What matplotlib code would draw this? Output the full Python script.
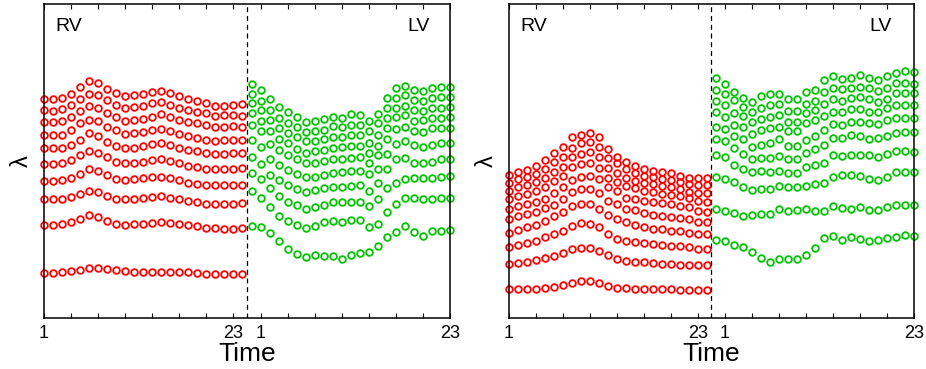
import numpy as np
import matplotlib.pyplot as plt

plt.rcParams['font.family'] = ['Liberation Sans', 'DejaVu Sans']

# time points of the RV and LV sequences, plotted one after the other
rv_time = np.arange(1, 24)
lv_time = np.arange(24, 47)
tick_pos = [1, 4, 7, 10, 13, 16, 19, 22, 25, 28, 31, 34, 37, 40, 43, 46]
tick_text = ['1', '', '', '', '', '', '', '23', '1', '', '', '', '', '', '', '23']

# lambda values (arbitrary units), one list per row of circles
left_rv = [
    [657, 657, 661, 673, 694, 712, 706, 688, 674, 665, 668, 671, 677, 681, 674, 665, 656, 651, 644, 637, 637, 639, 641],
    [624, 622, 627, 640, 656, 673, 670, 654, 640, 630, 632, 635, 644, 647, 640, 630, 624, 619, 614, 606, 608, 609, 607],
    [588, 588, 592, 603, 621, 636, 631, 614, 603, 592, 594, 596, 604, 611, 604, 593, 588, 585, 579, 573, 574, 575, 574],
    [549, 548, 549, 563, 584, 594, 591, 573, 563, 552, 554, 557, 564, 567, 561, 552, 546, 541, 534, 532, 533, 533, 534],
    [511, 509, 510, 519, 534, 555, 545, 529, 515, 510, 511, 516, 521, 525, 519, 511, 505, 500, 494, 492, 493, 494, 494],
    [462, 461, 465, 474, 488, 501, 495, 482, 469, 464, 465, 469, 474, 477, 472, 465, 456, 452, 447, 446, 447, 447, 449],
    [412, 411, 413, 421, 432, 447, 442, 428, 418, 414, 416, 419, 423, 424, 419, 413, 406, 402, 399, 398, 398, 398, 399],
    [357, 356, 358, 364, 372, 382, 377, 365, 358, 357, 357, 360, 362, 365, 361, 356, 352, 349, 342, 343, 342, 342, 344],
    [280, 280, 281, 287, 297, 308, 304, 292, 283, 280, 281, 282, 286, 288, 286, 282, 278, 275, 269, 269, 268, 268, 271],
    [136, 136, 137, 140, 145, 151, 150, 147, 143, 140, 138, 137, 138, 137, 137, 137, 137, 136, 132, 132, 131, 131, 132],
]
left_lv = [
    [702, 685, 656, 634, 619, 604, 589, 592, 597, 604, 599, 611, 609, 591, 612, 659, 689, 695, 684, 681, 689, 694, 694],
    [672, 652, 624, 601, 586, 574, 559, 561, 564, 575, 572, 579, 579, 562, 584, 631, 659, 668, 654, 652, 659, 662, 664],
    [646, 624, 593, 569, 556, 544, 530, 531, 537, 542, 542, 549, 549, 526, 550, 599, 631, 636, 624, 622, 631, 631, 634],
    [616, 591, 561, 537, 525, 506, 496, 501, 504, 511, 512, 517, 516, 494, 516, 569, 602, 608, 592, 593, 601, 601, 602],
    [579, 561, 522, 504, 489, 476, 464, 464, 471, 476, 477, 480, 482, 466, 489, 536, 566, 572, 561, 559, 571, 571, 571],
    [533, 513, 477, 459, 445, 432, 422, 422, 429, 436, 437, 440, 440, 432, 446, 491, 521, 531, 518, 514, 519, 524, 524],
    [483, 461, 430, 414, 399, 387, 379, 384, 389, 392, 394, 397, 398, 382, 404, 446, 476, 479, 466, 466, 467, 477, 477],
    [434, 417, 389, 367, 349, 339, 326, 332, 339, 348, 347, 349, 349, 337, 356, 390, 404, 418, 421, 419, 419, 424, 425],
    [380, 360, 334, 307, 292, 279, 271, 277, 287, 291, 289, 294, 294, 274, 282, 318, 342, 360, 360, 356, 357, 361, 361],
    [277, 274, 256, 231, 207, 191, 182, 190, 187, 187, 177, 189, 194, 199, 216, 242, 259, 277, 257, 247, 260, 262, 265],
]
right_rv = [
    [429, 439, 444, 456, 474, 496, 512, 542, 550, 554, 542, 507, 484, 469, 456, 447, 441, 437, 434, 427, 421, 420, 420],
    [406, 416, 422, 432, 448, 468, 484, 511, 524, 527, 512, 479, 464, 446, 434, 426, 422, 417, 414, 407, 401, 399, 399],
    [382, 392, 398, 407, 419, 439, 452, 482, 492, 497, 482, 449, 436, 420, 412, 406, 401, 396, 392, 387, 379, 376, 374],
    [357, 366, 372, 381, 392, 412, 426, 454, 462, 464, 451, 421, 407, 396, 389, 382, 377, 372, 369, 366, 361, 350, 348],
    [326, 336, 341, 348, 358, 374, 394, 414, 424, 426, 417, 392, 382, 361, 358, 352, 348, 346, 341, 337, 332, 320, 319],
    [296, 305, 312, 319, 330, 340, 357, 379, 386, 388, 376, 351, 342, 326, 324, 316, 308, 306, 304, 301, 297, 287, 288],
    [256, 264, 272, 279, 291, 305, 317, 335, 341, 342, 328, 309, 297, 287, 279, 274, 268, 266, 261, 260, 256, 252, 251],
    [213, 218, 224, 232, 242, 251, 262, 276, 284, 283, 273, 251, 237, 232, 228, 224, 221, 219, 217, 215, 212, 208, 206],
    [162, 165, 168, 173, 180, 187, 194, 206, 210, 209, 200, 188, 176, 172, 168, 167, 165, 163, 162, 160, 159, 158, 158],
    [87, 88, 88, 88, 91, 94, 98, 105, 111, 111, 106, 96, 91, 89, 88, 87, 87, 87, 86, 85, 85, 85, 85],
]
right_lv = [
    [719, 702, 677, 659, 649, 667, 671, 673, 656, 656, 677, 685, 715, 726, 716, 719, 729, 719, 715, 725, 736, 741, 739],
    [685, 671, 653, 632, 617, 629, 638, 641, 622, 622, 642, 652, 677, 691, 687, 689, 694, 690, 681, 690, 704, 704, 702],
    [651, 638, 616, 607, 588, 597, 604, 608, 587, 588, 614, 624, 643, 656, 650, 661, 663, 656, 648, 658, 674, 674, 674],
    [617, 602, 580, 572, 553, 563, 570, 573, 560, 561, 584, 593, 605, 618, 618, 626, 627, 617, 617, 629, 640, 640, 639],
    [572, 568, 547, 536, 514, 518, 526, 537, 517, 517, 534, 546, 563, 582, 579, 588, 588, 585, 581, 593, 601, 599, 601],
    [536, 530, 509, 493, 477, 479, 479, 486, 476, 476, 496, 506, 520, 541, 541, 549, 547, 538, 539, 546, 555, 557, 557],
    [489, 483, 458, 448, 439, 441, 437, 441, 435, 435, 452, 459, 465, 490, 485, 488, 488, 489, 482, 491, 500, 501, 499],
    [424, 416, 407, 392, 384, 388, 388, 396, 392, 392, 396, 401, 405, 423, 428, 430, 425, 418, 414, 424, 438, 438, 438],
    [327, 322, 316, 306, 308, 312, 312, 327, 322, 324, 327, 320, 320, 337, 331, 326, 334, 323, 323, 334, 339, 340, 339],
    [234, 232, 220, 214, 197, 180, 168, 176, 176, 176, 189, 210, 241, 246, 233, 242, 238, 230, 234, 239, 244, 248, 246],
]

RED = '#ff0000'
GREEN = '#00c400'


def draw_panel(ax, rv, lv, lv_x):
    for row in rv:
        ax.plot(rv_time, row, 'o', ls='none', mfc='none', mec=RED, ms=4.8, mew=1.3, clip_on=False)
    for row in lv:
        ax.plot(lv_time, row, 'o', ls='none', mfc='none', mec=GREEN, ms=4.8, mew=1.3, clip_on=False)
    ax.axvline(23.5, color='k', lw=0.9, ls=(0, (4, 3)))

    ax.set_xlim(1, 46)
    ax.set_ylim(0, 942)
    ax.set_xticks(tick_pos)
    ax.set_xticklabels(tick_text)
    ax.set_yticks([])
    ax.tick_params(axis='x', direction='in', top=True, length=3.5, width=0.8,
                   labelsize=13, pad=5)
    for s in ax.spines.values():
        s.set_linewidth(1.1)

    ax.set_xlabel('Time', fontsize=19, labelpad=0)
    ax.set_ylabel('λ', fontsize=17, labelpad=8)

    ax.text(0.027, 0.955, 'RV', transform=ax.transAxes, fontsize=14, ha='left', va='top')
    ax.text(lv_x, 0.955, 'LV', transform=ax.transAxes, fontsize=14, ha='left', va='top')


fig = plt.figure(figsize=(9.26, 3.69), dpi=100)
ax1 = fig.add_axes([44 / 926, 51 / 369, 406 / 926, 314 / 369])
ax2 = fig.add_axes([509 / 926, 51 / 369, 405 / 926, 314 / 369])

draw_panel(ax1, left_rv, left_lv, 0.894)
draw_panel(ax2, right_rv, right_lv, 0.891)

fig.savefig('out.png', dpi=100)
